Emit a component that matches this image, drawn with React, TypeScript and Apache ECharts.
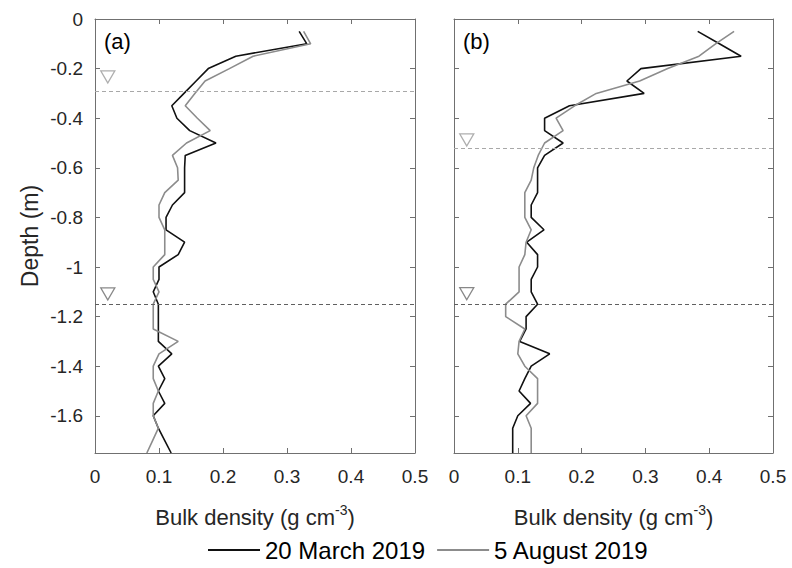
import React, { useEffect, useRef } from "react";
import * as echarts from "echarts";

// Depth of each sample (m, negative = below surface)
const depths = [
  -0.05, -0.1, -0.15, -0.2, -0.25, -0.3, -0.35, -0.4, -0.45, -0.5, -0.55, -0.6, -0.65, -0.7,
  -0.75, -0.8, -0.85, -0.9, -0.95, -1.0, -1.05, -1.1, -1.15, -1.2, -1.25, -1.3, -1.35, -1.4,
  -1.45, -1.5, -1.55, -1.6, -1.65, -1.7, -1.75,
];

// Panel (a) bulk density (g cm-3)
const aMarch = [
  0.319, 0.331, 0.22, 0.177, 0.158, 0.139, 0.12, 0.128, 0.148, 0.189, 0.141, 0.14, 0.14, 0.14,
  0.121, 0.111, 0.111, 0.14, 0.13, 0.1, 0.1, 0.091, 0.099, 0.099, 0.099, 0.099, 0.12, 0.099,
  0.109, 0.099, 0.109, 0.091, 0.099, 0.109, 0.119,
];
const aAugust = [
  0.326, 0.337, 0.247, 0.21, 0.172, 0.156, 0.141, 0.16, 0.18, 0.143, 0.121, 0.129, 0.13, 0.109,
  0.1, 0.1, 0.109, 0.109, 0.109, 0.091, 0.091, 0.1, 0.091, 0.091, 0.091, 0.13, 0.1, 0.091,
  0.091, 0.099, 0.091, 0.091, 0.099, 0.09, 0.081,
];

// Panel (b) bulk density (g cm-3)
const bMarch = [
  0.382, 0.416, 0.45, 0.293, 0.271, 0.298, 0.181, 0.142, 0.142, 0.171, 0.142, 0.131, 0.131, 0.131,
  0.121, 0.121, 0.141, 0.114, 0.131, 0.131, 0.121, 0.121, 0.131, 0.113, 0.113, 0.103, 0.15, 0.121,
  0.111, 0.102, 0.12, 0.1, 0.092, 0.092, 0.092,
];
const bAugust = [
  0.439, 0.41, 0.384, 0.335, 0.291, 0.223, 0.189, 0.16, 0.171, 0.142, 0.132, 0.125, 0.121, 0.111,
  0.111, 0.111, 0.121, 0.113, 0.111, 0.102, 0.102, 0.102, 0.081, 0.081, 0.111, 0.102, 0.1, 0.111,
  0.131, 0.131, 0.131, 0.113, 0.121, 0.121, 0.121,
];

// Water table depths (m): [shallow, deep]
const waterA = [-0.29, -1.145];
const waterB = [-0.52, -1.148];
const waterMarkerX = 0.02;

const seriesNames = ["20 March 2019", "5 August 2019"];
const panelLabels = ["(a)", "(b)"];
const xTicks = { min: 0, max: 0.5, interval: 0.1 };
// depth axis drawn downward (inverse), 0 at the top, bottom at 1.75 m
const yTicks = { min: 0, max: 1.75, interval: 0.2 };

const FONT = "Liberation Sans, Arial, Helvetica, sans-serif";
const TXT = "#262626";
const AX = "#707070";
const BLACK = "#111111";
const GRAY = "#8c8c8c";
const WT_COLORS = ["#a8a8a8", "#606060"];
const WT_MARK = ["#9a9a9a", "#6a6a6a"];
const MARK_OFFSETS = [
  [-14, -9],
  [-8, -10],
];

export default function App() {
  const ref = useRef<HTMLDivElement>(null);
  useEffect(() => {
    document.body.style.margin = "0";
    const chart = echarts.init(ref.current!, null, { renderer: "svg" });
    const zip = (xs: number[]) => xs.map((v, i) => [v, -depths[i]]);

    const grids = [
      { left: 95, top: 19, width: 320, height: 434 },
      { left: 454, top: 19, width: 319, height: 434 },
    ];
    const tick = { show: true, inside: true, length: 5, lineStyle: { color: AX, width: 1 } };
    const line = { show: true, onZero: false, lineStyle: { color: AX, width: 1 } };
    const depthLabel = (v: number) => (v === 0 ? "0" : "-" + String(+v.toFixed(2)));

    const xName = "{n|Bulk density (g cm}{s|-3}{n|)}";
    const xAxis: any[] = [];
    const yAxis: any[] = [];
    [0, 1].forEach((g) => {
      xAxis.push({
        type: "value",
        gridIndex: g,
        position: "bottom",
        ...xTicks,
        axisLine: line,
        axisTick: tick,
        splitLine: { show: false },
        axisLabel: { color: TXT, fontSize: 19, fontFamily: FONT, margin: 14 },
        name: xName,
        nameLocation: "middle",
        nameGap: 50,
        nameTextStyle: {
          rich: {
            n: { fontSize: 22, fontFamily: FONT, color: TXT, lineHeight: 28 },
            s: { fontSize: 14, fontFamily: FONT, color: TXT, lineHeight: 14, verticalAlign: "top" },
          },
        },
      });
    });
    [0, 1].forEach((g) => {
      xAxis.push({
        type: "value",
        gridIndex: g,
        position: "top",
        ...xTicks,
        axisLine: line,
        axisTick: tick,
        splitLine: { show: false },
        axisLabel: { show: false },
      });
    });
    [0, 1].forEach((g) => {
      yAxis.push({
        type: "value",
        gridIndex: g,
        position: "left",
        inverse: true,
        ...yTicks,
        axisLine: line,
        axisTick: tick,
        splitLine: { show: false },
        axisLabel: {
          show: g === 0,
          showMaxLabel: false,
          formatter: depthLabel,
          color: TXT,
          fontSize: 19,
          fontFamily: FONT,
          margin: 12,
        },
        name: g === 0 ? "Depth (m)" : "",
        nameLocation: "middle",
        nameGap: 54,
        nameTextStyle: { fontSize: 23, fontFamily: FONT, color: TXT },
      });
    });
    [0, 1].forEach((g) => {
      yAxis.push({
        type: "value",
        gridIndex: g,
        position: "right",
        inverse: true,
        ...yTicks,
        axisLine: line,
        axisTick: tick,
        splitLine: { show: false },
        axisLabel: { show: false },
      });
    });

    const profile = (name: string, vals: number[], g: number, color: string) => ({
      type: "line",
      name,
      xAxisIndex: g,
      yAxisIndex: g,
      data: zip(vals),
      showSymbol: false,
      symbol: "none",
      lineStyle: { color, width: 1.6 },
      itemStyle: { color },
      z: 3,
    });

    const water = (levels: number[], g: number) => ({
      type: "scatter",
      name: "water" + g,
      xAxisIndex: g,
      yAxisIndex: g,
      symbol: "triangle",
      symbolRotate: 180,
      symbolSize: [14, 12],
      data: levels.map((d, i) => ({
        value: [waterMarkerX, -d],
        symbolOffset: [0, MARK_OFFSETS[g][i]],
        itemStyle: { color: "#ffffff", borderColor: WT_MARK[i], borderWidth: 1.3 },
      })),
      silent: true,
      z: 2,
      markLine: {
        silent: true,
        symbol: "none",
        label: { show: false },
        animation: false,
        data: levels.map((d, i) => ({
          yAxis: -d,
          lineStyle: { color: WT_COLORS[i], type: [4, 3], width: 1.2 },
        })),
      },
    });

    chart.setOption({
      animation: false,
      backgroundColor: "#ffffff",
      textStyle: { fontFamily: FONT },
      grid: grids,
      xAxis,
      yAxis,
      legend: {
        data: seriesNames,
        top: 533,
        left: 203,
        icon: "rect",
        itemWidth: 52,
        itemHeight: 2,
        itemGap: 12,
        textStyle: { fontSize: 24, fontFamily: FONT, color: "#000" },
      },
      graphic: panelLabels.map((t, i) => ({
        type: "text",
        left: i === 0 ? 104 : 463,
        top: 30,
        style: { text: t, fontSize: 22, fontFamily: FONT, fill: "#000" },
      })),
      series: [
        profile(seriesNames[0], aMarch, 0, BLACK),
        profile(seriesNames[1], aAugust, 0, GRAY),
        profile(seriesNames[0], bMarch, 1, BLACK),
        profile(seriesNames[1], bAugust, 1, GRAY),
        water(waterA, 0),
        water(waterB, 1),
      ],
    });
    return () => chart.dispose();
  }, []);
  return <div ref={ref} style={{ width: 792, height: 568 }} />;
}
